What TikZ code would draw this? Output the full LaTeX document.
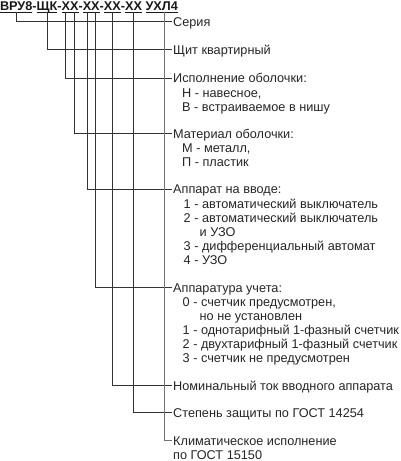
\documentclass[tikz,border=0pt]{standalone}
\usepackage{fontspec}
\setmainfont{Liberation Sans}
\usetikzlibrary{positioning}
\tikzstyle{ttl}=[anchor=base west,inner sep=0pt,outer sep=0pt,text depth=1.8pt,text=black!90,font=\bfseries\fontsize{12.7}{15}\selectfont]
\tikzstyle{lbl}=[anchor=west,inner xsep=1.5pt,inner ysep=0pt,text height=9pt,text depth=0pt,text=black!85,font=\fontsize{12.7}{14}\selectfont]
\tikzstyle{itm}=[anchor=west,inner sep=0pt,text height=9pt,text depth=0pt,text=black!85,font=\fontsize{12.7}{14}\selectfont]
\tikzstyle{ln}=[draw=black!80,line width=0.9pt]

\begin{document}
\begin{tikzpicture}[x=1pt,y=-1pt]
\useasboundingbox[fill=white] (0,0) rectangle (400,461);
\node[ttl] (vru) at (0,10.4) {ВРУ8};
\node[ttl] (h1) at (vru.base east) {-};
\node[ttl] (shk) at (h1.base east) {ЩК};
\node[ttl] (h2) at (shk.base east) {-};
\node[ttl] (xa) at (h2.base east) {Х};
\node[ttl] (xb) at (xa.base east) {Х};
\node[ttl] (h3) at (xb.base east) {-};
\node[ttl] (xc) at (h3.base east) {Х};
\node[ttl] (xd) at (xc.base east) {Х};
\node[ttl] (h4) at (xd.base east) {-};
\node[ttl] (xe) at (h4.base east) {ХХ};
\node[ttl] (h5) at (xe.base east) {-};
\node[ttl] (xf) at (h5.base east) {ХХ};
\node[ttl] (uhl) at ([xshift=3.5pt]xf.base east) {УХЛ4};
\foreach \a/\b in {vru/vru,shk/shk,xa/xb,xc/xd,xe/xe,xf/xf,uhl/uhl}
  \draw[black!90,line width=0.9pt] (\a.south west) -- (\b.south east);
\coordinate (uhlc) at ([xshift=3pt]uhl.south);

\node[lbl] (ser) at (171.5,21.5) {Серия};
\node[lbl] (shch) at (171.5,49.5) {Щит квартирный};
\node[lbl] (isp) at (171.5,78) {Исполнение оболочки:};
\node[itm] (isp1) at (182,92.5) {Н - навесное,};
\node[itm] (isp2) at (182,107) {В - встраиваемое в нишу};
\node[lbl] (mat) at (171.5,133.5) {Материал оболочки:};
\node[itm] (mat1) at (182,147.5) {М - металл,};
\node[itm] (mat2) at (182,161.5) {П - пластик};
\node[lbl] (app) at (171.5,189) {Аппарат на вводе:};
\node[itm] (app1) at (183.5,203.5) {1 - автоматический выключатель};
\node[itm] (app2) at (183.5,217.5) {2 - автоматический выключатель};
\node[itm] (app2b) at (199.5,231.5) {и УЗО};
\node[itm] (app3) at (183.5,245.5) {3 - дифференциальный автомат};
\node[itm] (app4) at (183.5,259.5) {4 - УЗО};
\node[lbl] (uch) at (171.5,287.5) {Аппаратура учета:};
\node[itm] (uch0) at (182.5,302) {0 - счетчик предусмотрен,};
\node[itm] (uch0b) at (199.5,316) {но не установлен};
\node[itm] (uch1) at (182.5,330) {1 - однотарифный 1-фазный счетчик};
\node[itm] (uch2) at (182.5,344) {2 - двухтарифный 1-фазный счетчик};
\node[itm] (uch3) at (182.5,358) {3 - счетчик не предусмотрен};
\node[lbl] (nom) at (171.5,385.5) {Номинальный ток вводного аппарата};
\node[lbl] (step) at (171.5,412.5) {Степень защиты по ГОСТ 14254};
\node[lbl] (klim) at (171.5,440.5) {Климатическое исполнение};
\node[itm] (klim2) at (173,454.5) {по ГОСТ 15150};

\draw[ln] (vru.south) |- (ser.west);
\draw[ln] (shk.south) |- (shch.west);
\draw[ln] (xa.south) |- (isp.west);
\draw[ln] (xb.south) |- (mat.west);
\draw[ln] (xc.south) |- (app.west);
\draw[ln] (xd.south) |- (uch.west);
\draw[ln] (xe.south) |- (nom.west);
\draw[ln] (xf.south) |- (step.west);
\draw[ln,draw=black!55] (uhlc) |- (klim.west);
\end{tikzpicture}
\end{document}
